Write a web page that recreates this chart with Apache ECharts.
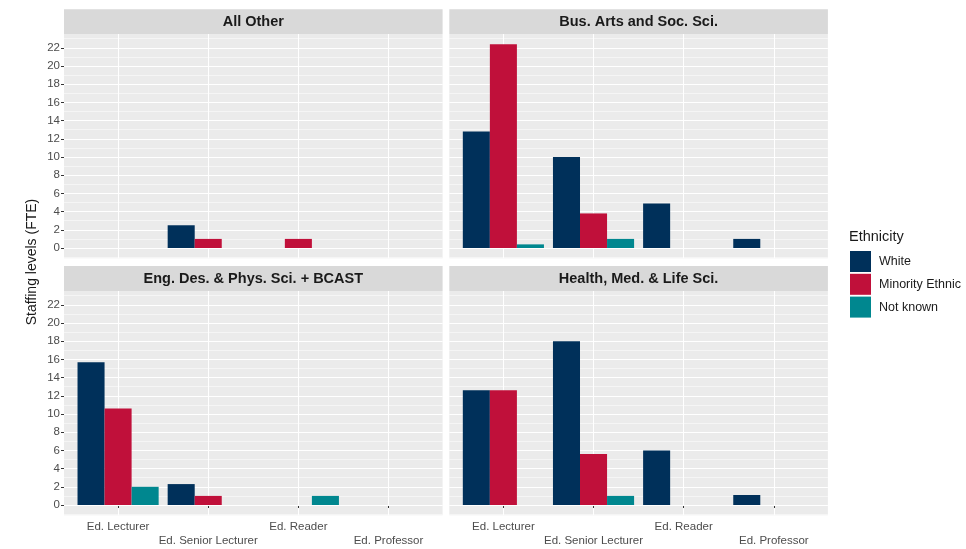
<!DOCTYPE html>
<html>
<head>
<meta charset="utf-8">
<title>Staffing levels by faculty and ethnicity</title>
<script src="https://cdn.jsdelivr.net/npm/echarts@6/dist/echarts.min.js"></script>
<style>
  html, body { margin: 0; padding: 0; background: #ffffff; }
  #chart { width: 966px; height: 549px; }
</style>
</head>
<body>
<div id="chart"></div>
<script>
// Job families on the x axis of every panel
const tiers = ['Ed. Lecturer', 'Ed. Senior Lecturer', 'Ed. Reader', 'Ed. Professor'];
// Ethnicity groups (fill)
const groups = ['White', 'Minority Ethnic', 'Not known'];
const groupColors = ['#00305A', '#C0103A', '#00878F'];
// Faculty facets
const faculties = ['All Other', 'Bus. Arts and Soc. Sci.', 'Eng. Des. & Phys. Sci. + BCAST', 'Health, Med. & Life Sci.'];
// Y axis tick labels
const yTicks = [0, 2, 4, 6, 8, 10, 12, 14, 16, 18, 20, 22];
const yMinorTicks = [-1, 1, 3, 5, 7, 9, 11, 13, 15, 17, 19, 21, 23];

// Staffing levels (FTE) per faculty, one value per tier
const allOtherWhite = [null, 2.5, null, null];
const allOtherMinority = [null, 1, 1, null];
const allOtherNotKnown = [null, null, null, null];

const busArtsWhite = [12.8, 10, 4.9, 1];
const busArtsMinority = [22.4, 3.8, null, null];
const busArtsNotKnown = [0.4, 1, null, null];

const engDesWhite = [15.7, 2.3, null, null];
const engDesMinority = [10.6, 1, null, null];
const engDesNotKnown = [2, null, 1, null];

const healthWhite = [12.6, 18, 6, 1.1];
const healthMinority = [12.6, 5.6, null, null];
const healthNotKnown = [null, 1, null, null];

const panelData = [
  [allOtherWhite, allOtherMinority, allOtherNotKnown],
  [busArtsWhite, busArtsMinority, busArtsNotKnown],
  [engDesWhite, engDesMinority, engDesNotKnown],
  [healthWhite, healthMinority, healthNotKnown]
];

// Facet layout (pixels)
const FONT = "'Liberation Sans', Arial, Helvetica, sans-serif";
const PW = 378.6, PH = 224.2;
const panelPos = [
  { left: 64, top: 34, strip: 9.3 },
  { left: 449.3, top: 34, strip: 9.3 },
  { left: 64, top: 291, strip: 266 },
  { left: 449.3, top: 291, strip: 266 }
];
// y range with 5% expansion around [0, max]
const yMax = 22.4;
const yLo = -yMax * 0.05, yHi = yMax * 1.05;
// discrete axis spans 0.4 .. 4.6, bars live in the 0.5 .. 4.5 bands
const inset = PW * 0.1 / 4.2;

const grids = [], xAxes = [], yAxes = [], series = [], graphics = [];

panelPos.forEach((p, i) => {
  const bottomRow = i >= 2, leftCol = i % 2 === 0;
  grids.push({ left: p.left, top: p.top, width: PW, height: PH, show: true,
    backgroundColor: '#EBEBEB', borderWidth: 0, containLabel: false });
  xAxes.push({
    type: 'value', gridIndex: i, min: 0.4, max: 4.6,
    axisLine: { show: false },
    axisTick: { show: bottomRow, customValues: [1, 2, 3, 4], length: 3,
      lineStyle: { color: '#333333', width: 1 } },
    axisLabel: { show: bottomRow, customValues: [1, 2, 3, 4], color: '#4D4D4D',
      fontSize: 11.5, fontFamily: FONT, margin: 5, lineHeight: 14,
      formatter: v => (v % 2 === 0 ? '\n' : '') + tiers[v - 1] },
    splitLine: { show: true, lineStyle: { color: '#FFFFFF', width: 1.1 } }
  });
  yAxes.push({
    type: 'value', gridIndex: i, min: yLo, max: yHi, position: 'left',
    axisLine: { show: false },
    axisTick: { show: leftCol, customValues: yTicks, length: 3,
      lineStyle: { color: '#333333', width: 1 } },
    axisLabel: { show: leftCol, customValues: yTicks, color: '#4D4D4D',
      fontSize: 11.5, fontFamily: FONT, margin: 4 },
    splitLine: { show: true, lineStyle: { color: '#FFFFFF', width: 1.1 } },
    z: 1
  });
  yAxes.push({
    type: 'value', gridIndex: i, min: yLo, max: yHi, position: 'left',
    axisLine: { show: false },
    axisTick: { show: false, customValues: yMinorTicks },
    axisLabel: { show: false, customValues: yMinorTicks },
    splitLine: { show: true, lineStyle: { color: '#FFFFFF', width: 0.5 } },
    z: 0
  });

  // Facet strip
  graphics.push({ type: 'rect', shape: { x: p.left, y: p.strip, width: PW, height: p.top - p.strip },
    style: { fill: '#D9D9D9' }, z: 10 });
  graphics.push({ type: 'text', x: p.left + PW / 2, y: (p.strip + p.top) / 2 + 0.5,
    style: { text: faculties[i], fill: '#1A1A1A', font: 'bold 14.5px ' + FONT,
      align: 'center', verticalAlign: 'middle' }, z: 11 });
});

// Bar grids, inset so the category bands sit inside the discrete range
panelPos.forEach((p, i) => {
  grids.push({ left: p.left + inset, top: p.top, width: PW - 2 * inset, height: PH, show: false });
  xAxes.push({ type: 'category', gridIndex: 4 + i, data: tiers, show: false });
  yAxes.push({ type: 'value', gridIndex: 4 + i, min: yLo, max: yHi, show: false });
  groups.forEach((g, k) => {
    series.push({
      type: 'bar', name: g, xAxisIndex: 4 + i, yAxisIndex: 8 + i,
      data: panelData[i][k], barWidth: '30%', barGap: '0%',
      itemStyle: { color: groupColors[k] }, emphasis: { disabled: true }
    });
  });
});

// Y axis title
graphics.push({ type: 'text', x: 32, y: 262, rotation: Math.PI / 2,
  style: { text: 'Staffing levels (FTE)', fill: '#1A1A1A', font: '14px ' + FONT,
    align: 'center', verticalAlign: 'middle' } });

const chart = echarts.init(document.getElementById('chart'), null, { renderer: 'canvas' });
chart.setOption({
  animation: false,
  backgroundColor: '#FFFFFF',
  textStyle: { fontFamily: FONT },
  title: { text: 'Ethnicity', left: 849, top: 229, padding: 0,
    textStyle: { fontSize: 14.5, fontWeight: 'normal', color: '#1A1A1A', fontFamily: FONT } },
  legend: {
    data: groups, orient: 'vertical', left: 850, top: 251, padding: 0,
    itemWidth: 21, itemHeight: 21, itemGap: 1.8, icon: 'rect', selectedMode: false,
    textStyle: { fontSize: 12.5, color: '#1A1A1A', fontFamily: FONT, padding: [0, 0, 0, 3] }
  },
  grid: grids,
  xAxis: xAxes,
  yAxis: yAxes,
  series: series,
  graphic: graphics
});
</script>
</body>
</html>
